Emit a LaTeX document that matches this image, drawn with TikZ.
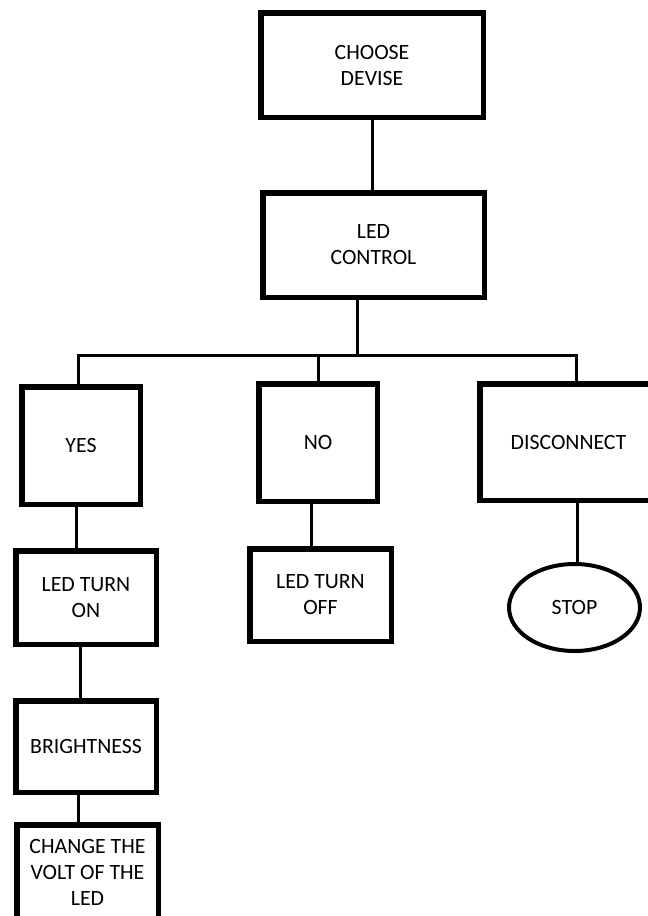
\documentclass[tikz,border=0pt]{standalone}
\usepackage{fontspec}
\setmainfont{Carlito}
\usetikzlibrary{shapes.geometric}

\begin{document}
\begin{tikzpicture}[x=1pt, y=-1pt,
			box/.style = {shape=rectangle, draw, line width=5.5pt, align=center,
				inner sep=0pt, font=\fontsize{21.8}{26}\selectfont},
			stopbox/.style = {box, shape=ellipse, line width=4pt},
			link/.style = {line width=3pt}]
			\useasboundingbox (0,0) rectangle (648,916);
			% top of the tree
			\node[box, minimum width=222.5pt, minimum height=104.5pt] (choose) at (372,65) {CHOOSE\\DEVISE};
			\node[box, minimum width=221.5pt, minimum height=104.5pt] (ctrl) at (373.5,245) {LED\\CONTROL};
			% three choices
			\node[box, minimum width=118.5pt, minimum height=117.5pt] (yes) at (81,445.5) {YES};
			\node[box, minimum width=118.5pt, minimum height=117.5pt] (no) at (318,442.5) {NO};
			\node[box, minimum width=177.5pt, minimum height=116.5pt] (dis) at (568.5,442) {DISCONNECT};
			% below the choices
			\node[box, minimum width=140.5pt, minimum height=93.5pt] (ledon) at (86,597.5) {LED TURN\\ON};
			\node[box, minimum width=141.5pt, minimum height=92.5pt] (ledoff) at (320.5,595) {LED TURN\\OFF};
			\node[stopbox, minimum width=131pt, minimum height=87pt] (stop) at (574.5,607.5) {STOP};
			\node[box, minimum width=140.5pt, minimum height=91.5pt] (bright) at (86,746.5) {BRIGHTNESS};
			\node[box, minimum width=141.5pt, minimum height=94.5pt] (change) at (87.5,872) {CHANGE THE\\VOLT OF THE\\LED};
			% connectors
			\coordinate (split) at (357,355);
			\draw[link] (choose.south) -- (choose.south |- ctrl.north);
			\draw[link] (split |- ctrl.south) -- (split);
			\draw[link] ([xshift=-3pt]yes.north) |- (split) -| ([xshift=7.5pt]dis.north);
			\draw[link] (no.north) -- (no.north |- split);
			\draw[link] ([xshift=-5pt]yes.south) -- ([xshift=-5pt]yes.south |- ledon.north);
			\draw[link] ([xshift=-6pt]ledon.south) -- ([xshift=-6pt]ledon.south |- bright.north);
			\draw[link] ([xshift=-8pt]bright.south) -- ([xshift=-8pt]bright.south |- change.north);
			\draw[link] ([xshift=-7pt]no.south) -- ([xshift=-7pt]no.south |- ledoff.north);
			\draw[link] ([xshift=8.5pt]dis.south) -- ([xshift=8.5pt]dis.south |- stop.north);
		\end{tikzpicture}
\end{document}
